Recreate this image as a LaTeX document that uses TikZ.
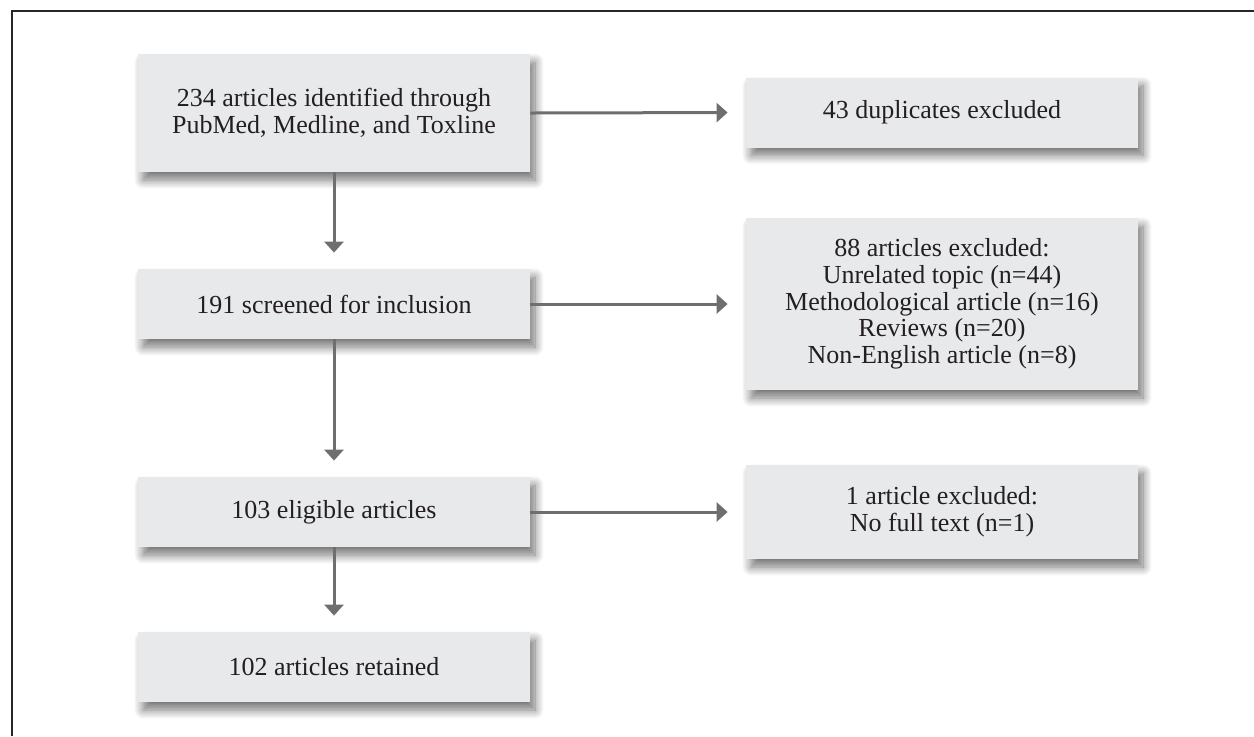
\documentclass[tikz,border=0pt]{standalone}
\usepackage{fontspec}
\setmainfont{Liberation Serif}
\usepackage{tikz}
\usetikzlibrary{arrows.meta,shadows.blur}
\definecolor{boxgray}{HTML}{E8E9EB}
\definecolor{arrowgray}{HTML}{6E6E6E}
\definecolor{inkgray}{HTML}{231F20}
\newcommand{\arw}{-{Triangle[length=5.5pt,width=9.5pt]}}

\begin{document}
\begin{tikzpicture}[x=0.5pt,y=-0.5pt,
  stagebox/.style={fill=boxgray, text=inkgray, align=center,
    minimum width=196pt, minimum height=35pt, inner sep=0pt,
    font=\fontsize{13}{13.35}\selectfont,
    blur shadow={shadow xshift=2.5pt, shadow yshift=-4pt,
      shadow blur radius=4.5pt, shadow blur steps=12, shadow opacity=55}},
  flow/.style={draw=arrowgray, line width=1.5pt}]
\useasboundingbox (0,0) rectangle (1254,736);
\draw[line width=1pt, black!85] (11.5,736) -- (11.5,10.5) -- (1254,10.5);
%main column
\node[stagebox, minimum height=59pt] (found) at (334,113)
  {234 articles identified through\\PubMed, Medline, and Toxline};
\node[stagebox] (screened) at (334,304) {191 screened for inclusion};
\node[stagebox] (eligible) at (334,512) {103 eligible articles};
\node[stagebox] (retained) at (334,667) {102 articles retained};
%exclusions
\node[stagebox] (dupl) at (942,112.5) {43 duplicates excluded};
\node[stagebox, minimum height=86pt] (excl) at (942,304)
  {88 articles excluded:\\Unrelated topic (n=44)\\Methodological article (n=16)\\Reviews (n=20)\\Non-English article (n=8)};
\node[stagebox, minimum height=47pt] (nofull) at (942,512)
  {1 article excluded:\\No full text (n=1)};
%arrows
\draw[flow,\arw,shorten >=8pt] (found.south) -- (screened.north);
\draw[flow,\arw,shorten >=8pt] (screened.south) -- (eligible.north);
\draw[flow,\arw,shorten >=8pt] (eligible.south) -- (retained.north);
\draw[flow,\arw,shorten >=9pt] (found.east) -- (dupl.west);
\draw[flow,\arw,shorten >=9pt] (screened.east) -- (excl.west);
\draw[flow,\arw,shorten >=9pt] (eligible.east) -- (nofull.west);
\end{tikzpicture}
\end{document}
